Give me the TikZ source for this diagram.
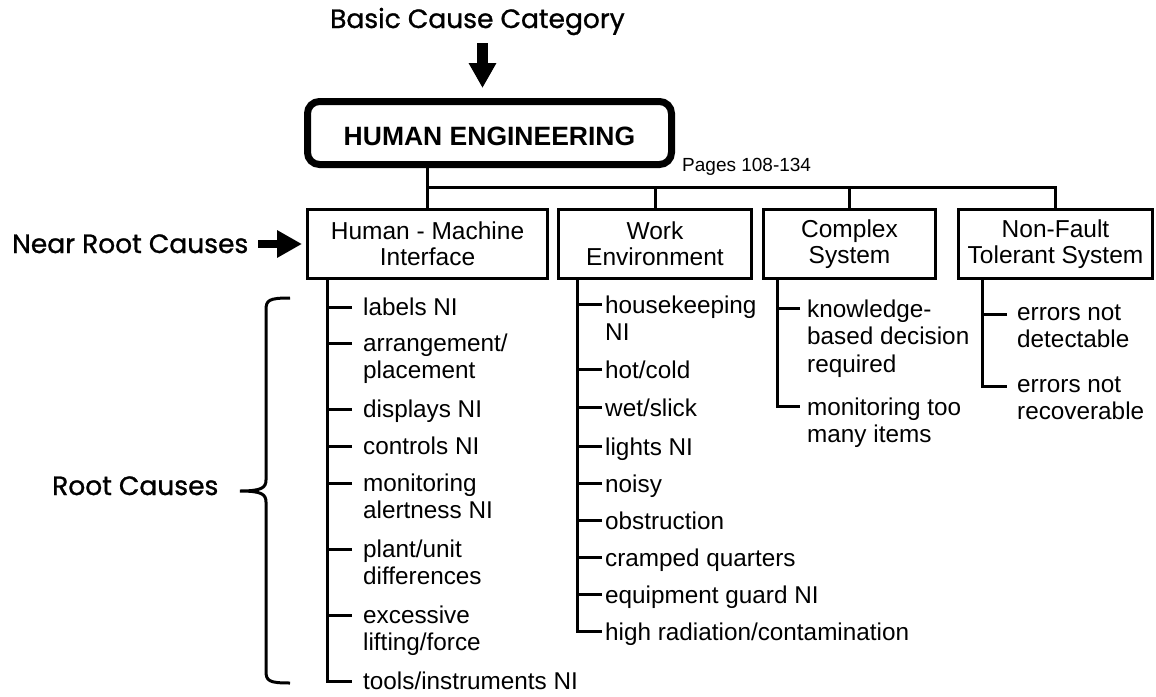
\documentclass[tikz,border=0pt]{standalone}
\usepackage{fontspec}
\setmainfont{Liberation Sans}
\newfontfamily\handfont[FakeBold=1]{Poppins}
\usetikzlibrary{arrows.meta}

% one column entry: lines stacked, baseline on the first line
\newcommand\itemlines[1]{\begin{tabular}[t]{@{}l@{}}#1\end{tabular}}

\begin{document}
\begin{tikzpicture}[x=1pt,y=-1pt,
  conn/.style={line width=3pt},
  catbox/.style={draw, line width=3pt, inner sep=0pt, align=center,
    minimum height=69pt, font=\fontsize{24.5}{26}\selectfont},
  entry/.style={anchor=base west, inner sep=0pt, font=\fontsize{24.3}{27.5}\selectfont},
  hand/.style={anchor=base west, inner sep=0pt, font=\handfont\fontsize{26.5}{30}\selectfont},
  fat/.style={line width=#1, -{Triangle[length=25pt, width=26pt]}},
]
\fill[white] (0,0) rectangle (1156,696);
\useasboundingbox (0,0) rectangle (1156,696);

% headline box
\node[draw, line width=7pt, rounded corners=12pt, minimum width=364pt, minimum height=63pt,
      inner sep=0pt, text height=24pt, text depth=0pt,
      font=\bfseries\fontsize{26.5}{30}\selectfont] (top) at (489.5,133) {HUMAN ENGINEERING};
\node[anchor=base west, inner sep=0pt, font=\fontsize{19}{22}\selectfont] (pages) at (682,171) {Pages 108-134};

% annotations
\node[hand] (bcc) at (330,28) {Basic Cause Category};
\node[hand] (nrc) at (12,253) {Near Root Causes};
\node[hand] (rc) at (52,495) {Root Causes};
\coordinate (bccTail) at (482.5,43);
\coordinate (bccHead) at (482.5,88);
\draw[fat=11pt] (bccTail) -- (bccHead);
\coordinate (nrcTail) at (258,244);
\draw[fat=8pt, shorten >=4pt] (nrcTail) -- (306,244);

% brace over the root causes
\draw[line width=3pt]
  (290,298) .. controls (269,298) and (266,300) .. (266,310) -- (266,480)
  .. controls (266,488) and (261,491) .. (240,491)
  .. controls (261,491) and (266,494) .. (266,502) -- (266,671)
  .. controls (266,681) and (269,683) .. (290,683);

% near root cause boxes
\node[catbox, minimum width=240pt] (hm) at (427.5,244) {Human - Machine\\Interface};
\node[catbox, minimum width=193pt] (we) at (655,244) {Work\\Environment};
\node[catbox, minimum width=172pt] (cs) at (849.5,244) {Complex\\System};
\node[catbox, minimum width=194pt] (nf) at (1055.5,244) {Non-Fault\\Tolerant System};

% tree from the headline box
\coordinate (bus) at (0,187);
\draw[conn] (hm.north |- top.south) -- (hm.north);
\draw[conn] (hm.north |- bus) -- (nf.north |- bus) -- (nf.north);
\draw[conn] (we.north |- bus) -- (we.north);
\draw[conn] (cs.north |- bus) -- (cs.north);

% Human - Machine Interface
\node[entry] (h1) at (363,315) {\itemlines{labels NI}};
\node[entry] (h2) at (363,351) {\itemlines{arrangement/\\placement}};
\node[entry] (h3) at (363,417) {\itemlines{displays NI}};
\node[entry] (h4) at (363,454) {\itemlines{controls NI}};
\node[entry] (h5) at (363,491) {\itemlines{monitoring\\alertness NI}};
\node[entry] (h6) at (363,557) {\itemlines{plant/unit\\differences}};
\node[entry] (h7) at (363,623) {\itemlines{excessive\\lifting/force}};
\node[entry] (h8) at (363,689) {\itemlines{tools/instruments NI}};
\draw[conn] ([xshift=21pt]hm.south west) |- ([shift={(-11pt,8pt)}]h8.base west);
\foreach \n in {h1,h2,h3,h4,h5,h6,h7}
  \draw[conn] ([shift={(-11pt,8pt)}]\n.base west) -- ++(-25,0);

% Work Environment
\node[entry] (w1) at (605,313) {\itemlines{housekeeping\\NI}};
\node[entry] (w2) at (605,378) {\itemlines{hot/cold}};
\node[entry] (w3) at (605,416) {\itemlines{wet/slick}};
\node[entry] (w4) at (605,455) {\itemlines{lights NI}};
\node[entry] (w5) at (605,492) {\itemlines{noisy}};
\node[entry] (w6) at (605,529) {\itemlines{obstruction}};
\node[entry] (w7) at (605,566) {\itemlines{cramped quarters}};
\node[entry] (w8) at (605,603) {\itemlines{equipment guard NI}};
\node[entry] (w9) at (605,640) {\itemlines{high radiation/contamination}};
\draw[conn] ([xshift=20pt]we.south west) |- ([shift={(-3pt,9pt)}]w9.base west);
\foreach \n in {w1,w2,w3,w4,w5,w6,w7,w8}
  \draw[conn] ([shift={(-3pt,9pt)}]\n.base west) -- ++(-25,0);

% Complex System
\node[entry] (c1) at (807,317) {\itemlines{knowledge-\\based decision\\required}};
\node[entry] (c2) at (807,415) {\itemlines{monitoring too\\many items}};
\draw[conn] ([xshift=15pt]cs.south west) |- ([shift={(-7pt,9pt)}]c2.base west);
\draw[conn] ([shift={(-7pt,9pt)}]c1.base west) -- ++(-23,0);

% Non-Fault Tolerant System
\node[entry] (n1) at (1017,320) {\itemlines{errors not\\detectable}};
\node[entry] (n2) at (1017,392) {\itemlines{errors not\\recoverable}};
\draw[conn] ([xshift=25pt]nf.south west) |- ([shift={(-10pt,6pt)}]n2.base west);
\draw[conn] ([shift={(-10pt,6pt)}]n1.base west) -- ++(-25,0);
\end{tikzpicture}
\end{document}
